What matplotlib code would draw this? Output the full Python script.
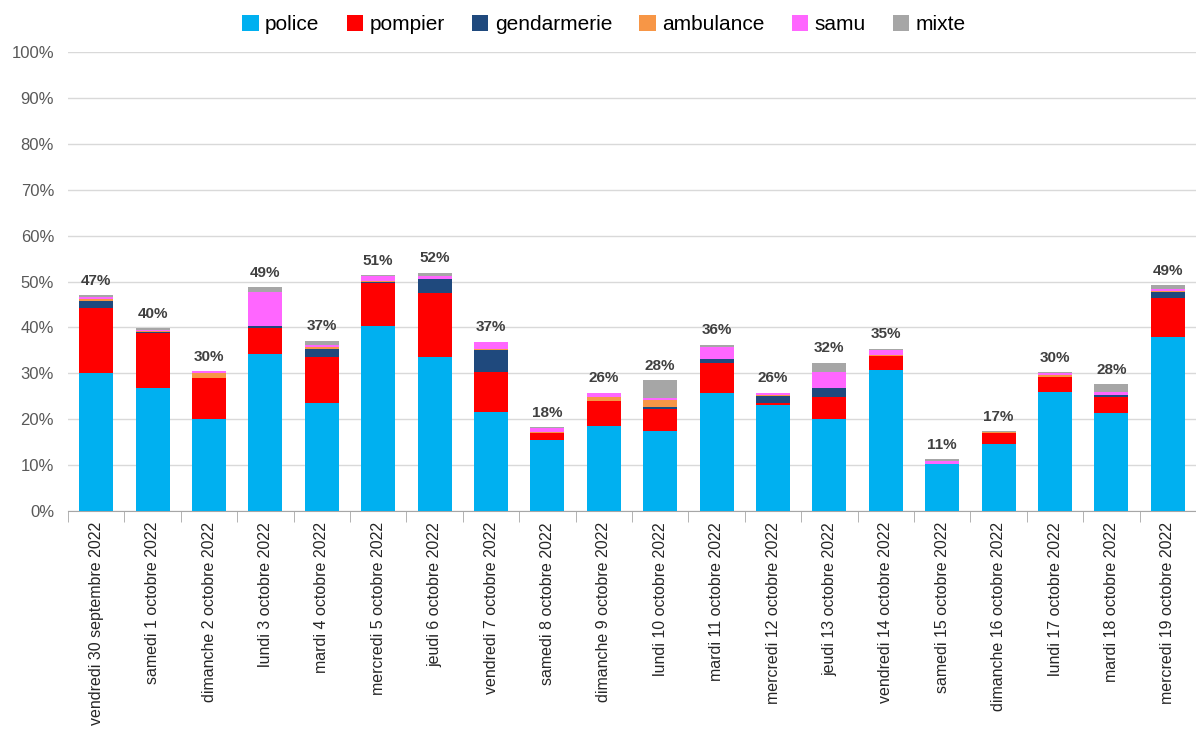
import matplotlib.pyplot as plt
import numpy as np

plt.rcParams['font.family'] = ['Liberation Sans', 'DejaVu Sans']

days = ["vendredi 30 septembre 2022", "samedi 1 octobre 2022", "dimanche 2 octobre 2022",
        "lundi 3 octobre 2022", "mardi 4 octobre 2022", "mercredi 5 octobre 2022",
        "jeudi 6 octobre 2022", "vendredi 7 octobre 2022", "samedi 8 octobre 2022",
        "dimanche 9 octobre 2022", "lundi 10 octobre 2022", "mardi 11 octobre 2022",
        "mercredi 12 octobre 2022", "jeudi 13 octobre 2022", "vendredi 14 octobre 2022",
        "samedi 15 octobre 2022", "dimanche 16 octobre 2022", "lundi 17 octobre 2022",
        "mardi 18 octobre 2022", "mercredi 19 octobre 2022"]

police = [30.1, 26.9, 20.1, 34.2, 23.5, 40.4, 33.6, 21.5, 15.5, 18.5,
          17.4, 25.7, 23.1, 20.1, 30.8, 10.2, 14.7, 26.0, 21.4, 37.9]
pompier = [14.1, 11.9, 8.9, 5.7, 10.1, 9.2, 13.8, 8.8, 1.5, 5.5,
           4.9, 6.5, 0.4, 4.7, 3.0, 0.1, 2.4, 3.3, 3.5, 8.5]
gendarmerie = [1.5, 0.1, 0.0, 0.4, 1.7, 0.2, 3.1, 4.7, 0.1, 0.0,
               0.4, 0.9, 1.6, 1.9, 0.0, 0.0, 0.0, 0.0, 0.3, 1.4]
ambulance = [0.4, 0.3, 1.1, 0.1, 0.4, 0.3, 0.1, 0.2, 0.1, 0.8,
             1.5, 0.1, 0.2, 0.2, 0.1, 0.0, 0.1, 0.3, 0.1, 0.1]
samu = [0.5, 0.3, 0.3, 7.4, 0.5, 1.0, 0.5, 1.6, 0.8, 0.9,
        0.4, 2.6, 0.3, 3.4, 1.2, 0.7, 0.0, 0.5, 0.6, 0.5]
mixte = [0.4, 0.3, 0.0, 0.9, 0.9, 0.3, 0.8, 0.1, 0.3, 0.1,
         3.9, 0.4, 0.2, 2.0, 0.3, 0.3, 0.2, 0.2, 1.7, 0.8]

series = [("police", police, "#00B0F0"),
          ("pompier", pompier, "#FF0000"),
          ("gendarmerie", gendarmerie, "#1F497D"),
          ("ambulance", ambulance, "#F79646"),
          ("samu", samu, "#FF66FF"),
          ("mixte", mixte, "#A6A6A6")]

fig = plt.figure(figsize=(11.96, 7.38), dpi=100)
ax = fig.add_axes([68 / 1196, 1 - 511 / 738, (1196 - 68) / 1196, (511 - 52) / 738])

x = np.arange(len(days))
bottom = np.zeros(len(days))
for name, vals, col in series:
    vals = np.array(vals)
    ax.bar(x, vals, 0.6, bottom=bottom, color=col, label=name, zorder=3)
    bottom += vals

for xi, tot in zip(x, bottom):
    ax.text(xi, tot + 1.6, "%d%%" % round(tot), ha="center", va="bottom",
            fontsize=11, fontweight="bold", color="#404040")

ax.set_xlim(-0.5, len(days) - 0.5)
ax.set_ylim(0, 100)
ax.set_yticks(np.arange(0, 101, 10))
ax.set_yticklabels(["%d%%" % v for v in range(0, 101, 10)], fontsize=12, color="#595959")
ax.yaxis.grid(True, color="#D9D9D9", linewidth=1, zorder=0)
ax.tick_params(axis="y", length=0, pad=10)

ax.set_xticks(x)
ax.set_xticklabels(days, rotation=90, fontsize=11.5, color="#262626")
ax.set_xticks(np.arange(-0.5, len(days), 1), minor=True)
ax.tick_params(axis="x", which="major", length=0, pad=8)
ax.tick_params(axis="x", which="minor", length=8, color="#A6A6A6")

for s in ["top", "right", "left"]:
    ax.spines[s].set_visible(False)
ax.spines["bottom"].set_color("#A6A6A6")

fig.legend(loc="upper center", bbox_to_anchor=(0.505, 1.005), ncol=6, frameon=False,
           fontsize=15, handlelength=0.8, handleheight=0.8, handletextpad=0.3,
           columnspacing=1.3)

fig.savefig("out.png", dpi=100)
